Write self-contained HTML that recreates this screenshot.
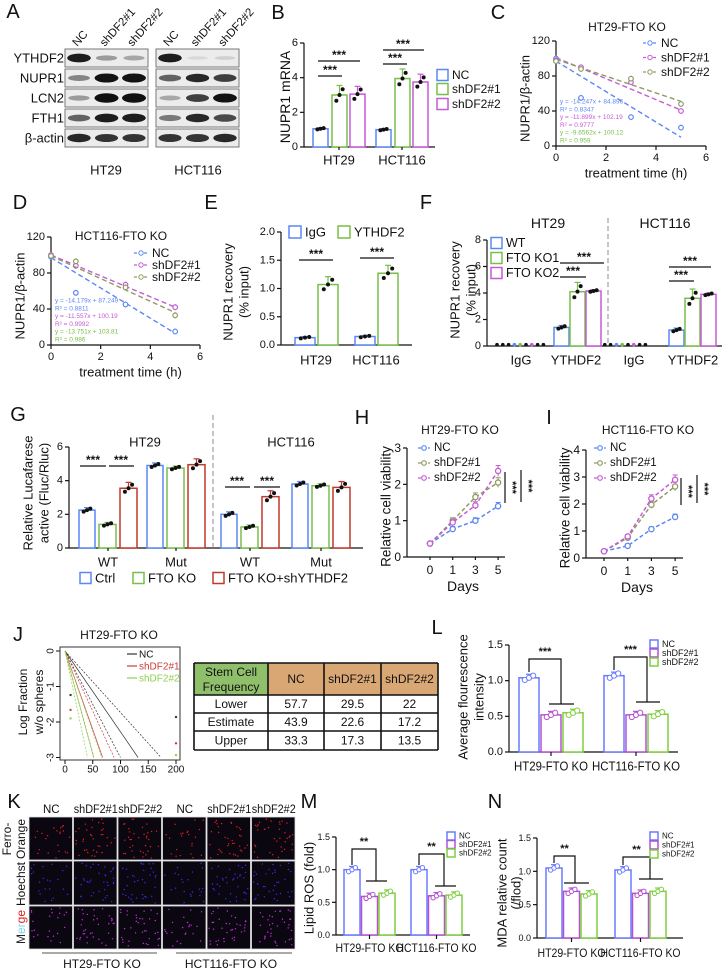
<!DOCTYPE html>
<html><head><meta charset="utf-8"><style>
html,body{margin:0;padding:0;background:#fff;}
svg{display:block;font-family:"Liberation Sans",Arial,sans-serif;}
</style></head><body>
<svg id="fig" width="723" height="971" viewBox="0 0 723 971" xmlns="http://www.w3.org/2000/svg"></svg>
<script>
// ---------- data arrays ----------
const blotRows=['YTHDF2','NUPR1','LCN2','FTH1','β-actin'];
const blotLanes=['NC','shDF2#1','shDF2#2'];
const blotHT29=[[0.9,0.35,0.3],[0.45,0.95,0.95],[0.35,1.0,1.0],[0.6,0.9,0.9],[0.85,0.8,0.8]];
const blotHCT116=[[0.9,0.08,0.12],[0.6,0.85,0.75],[0.3,0.75,0.95],[0.5,0.85,0.7],[0.8,0.8,0.85]];
const bCats=['HT29','HCT116'];
const bNC=[1.05,1.0];
const bSh1=[3.0,3.95];
const bSh2=[3.05,3.75];
const bTicks=[0,2,4,6];
const timeTicks=[0,2,4,6];
const timePts=[0,1,3,5];
const cNC=[100,55,33,21], cSh1=[98,90,73,40], cSh2=[97,88,77,48];
const cLineNC=[97,10], cLineSh1=[101,41], cLineSh2=[99,51];
const dNC=[98,58,45,15], dSh1=[100,88,67,42], dSh2=[99,93,64,33];
const dLineNC=[97,13], dLineSh1=[100,42], dLineSh2=[99,36];
const eCats=['HT29','HCT116'];
const eIgG=[0.13,0.15];
const eYTH=[1.07,1.27];
const eTicks=[0,0.5,1.0,1.5,2.0];
const fCats=['IgG','YTHDF2','IgG','YTHDF2'];
const fWT=[1.4,1.2], fKO1=[4.1,3.6], fKO2=[4.15,3.9];
const fTicks=[0,2,4,6,8];
const gCats=['WT','Mut','WT','Mut'];
const gCtrl=[2.25,4.9,2.0,3.8];
const gKO=[1.4,4.75,1.25,3.7];
const gKOsh=[3.55,4.95,3.05,3.6];
const gTicks=[0,2,4,6];
const days=['0','1','3','5'];
const hNC=[0.37,0.77,1.0,1.4], hSh1=[0.37,1.0,1.65,2.05], hSh2=[0.37,0.95,1.42,2.37];
const hTicks=[0,1,2,3];
const iNC=[0.25,0.45,1.07,1.52], iSh1=[0.25,0.75,1.97,2.65], iSh2=[0.25,0.8,2.2,2.9];
const iTicks=[0,1,2,3,4];
const jFreqEst=[43.9,22.6,17.2], jFreqLow=[57.7,29.5,22], jFreqUp=[33.3,17.3,13.5];
const jPtLow=[-1.24,-1.66,-1.9], jPtHigh=[-1.86,-2.6,-2.93];
const lCats=['HT29-FTO KO','HCT116-FTO KO'];
const lNC=[1.04,1.07], lSh1=[0.52,0.52], lSh2=[0.55,0.53];
const mNC=[1.0,1.0], mSh1=[0.59,0.6], mSh2=[0.64,0.61];
const nNC=[1.05,1.02], nSh1=[0.7,0.67], nSh2=[0.66,0.7];
const lmnTicks=[0,0.5,1.0,1.5];

// ---------- helpers ----------
const NS='http://www.w3.org/2000/svg';
const S=document.getElementById('fig');
const BLUE='#5b87f5',GREEN='#78bf4a',MAG='#c55bd6',OLIVE='#8e9b62',RED='#c0392b';
function el(tag,a,p){const e=document.createElementNS(NS,tag);for(const k in a)e.setAttribute(k,a[k]);(p||S).appendChild(e);return e;}
function T(x,y,s,name,o){o=o||{};const a={x:x,y:y,'font-size':o.fs||11,'text-anchor':o.a||'middle',fill:o.c||'#111','dominant-baseline':'central'};
 if(o.r)a.transform='rotate('+o.r+' '+x+' '+y+')';if(o.fw)a['font-weight']=o.fw;if(o.tl){a.textLength=o.tl;a.lengthAdjust='spacingAndGlyphs';}
 const e=el('text',a);e.textContent=s;
 
 return e;}
function L(x1,y1,x2,y2,name,o){o=o||{};const a={x1:x1,y1:y1,x2:x2,y2:y2,stroke:o.c||'#111','stroke-width':o.w||1.2};if(o.d)a['stroke-dasharray']=o.d;const e=el('line',a);
 
 return e;}
function R(x,y,w,h,name,o){o=o||{};const e=el('rect',{x:x,y:y,width:w,height:h,fill:o.f||'none',stroke:o.c||'none','stroke-width':o.w||1.5});
 
 return e;}
function C(x,y,r,name,o){o=o||{};const e=el('circle',{cx:x,cy:y,r:r,fill:o.f||'#111',stroke:o.c||'none','stroke-width':o.w||1});
 
 return e;}
function yAxis(x,yf,ticks,fmt,name,fs){L(x,yf(ticks[ticks.length-1]),x,yf(ticks[0]),name+'-line');
 ticks.forEach(t=>{L(x-4,yf(t),x,yf(t),name+'-tick');T(x-6,yf(t),fmt(t),name+'-tick-label',{a:'end',fs:fs||11});});}
function bar(x,w,v,yf,col,name,err,dots){const y0=yf(0),y=yf(v);R(x,y,w,y0-y,name,{c:col,f:'#fff'});
 if(err){L(x+w/2,y,x+w/2,yf(v+err),name+'-error',{c:col,w:1.2});L(x+w/2-3,yf(v+err),x+w/2+3,yf(v+err),name+'-error-cap',{c:col,w:1.2});}
 if(dots){[-0.3,0,0.3].forEach((o,i)=>C(x+w/2+o*w*0.7,yf(v+(i-1)*err*0.6),dots.r||2,name+'-point',{f:dots.f||'#111',c:dots.c||'none',w:1}));}}
function legendSq(x,y,col,label,name,fs,sz){R(x,y-sz/2,sz,sz,name+'-swatch',{c:col,w:1.5,f:'#fff'});T(x+sz+4,y,label,name+'-label',{a:'start',fs:fs});}
function stars(x,y,s,name,fs){T(x,y,s,name,{fs:fs||12,fw:'bold'});}

// ---------- Panel A ----------
T(13,12,'A','panel-a-label',{fs:20});
function blot(x0,data,cell){const g=el('g',{});
 blotRows.forEach((r,ri)=>{const y=49+ri*20;const b=el('rect',{x:x0,y:y,width:83,height:18,fill:'#ececec',stroke:'#777','stroke-width':1},g);
  
  data[ri].forEach((v,li)=>{const cx=x0+14+li*27.5;const e=el('ellipse',{cx:cx,cy:y+9,rx:10+v*2,ry:1.5+v*3.2,fill:'#111','fill-opacity':Math.min(1,v*1.05)},g);
   });});}
blot(65,blotHT29,'ht29');blot(156,blotHCT116,'hct116');
blotRows.forEach((r,ri)=>T(64,58+ri*20,r,'blot-row-label',{a:'end',fs:13}));
[65,156].forEach(x0=>blotLanes.forEach((l,li)=>T(x0+10+li*27.5,45,l,'blot-lane-label',{a:'start',fs:11.5,r:-48})));
T(106,170,'HT29','blot-cell-label-ht29',{fs:13});T(198,170,'HCT116','blot-cell-label-hct116',{fs:13});

// ---------- Panel B ----------
T(278,13,'B','panel-b-label',{fs:20});
const yB=v=>147-v/6*104;
yAxis(304,yB,bTicks,t=>t,'b-y-axis',11);
L(304,147,435,147,'b-x-axis');
T(285,97,'NUPR1 mRNA','b-y-axis-title',{fs:14,r:-90});
const bStarts=[313,376];
bCats.forEach((c,i)=>{const x=bStarts[i];
 bar(x,15,bNC[i],yB,BLUE,'b-bar-nc',0.06,{});
 bar(x+19,15,bSh1[i],yB,GREEN,'b-bar-shdf2-1',0.55,{});
 bar(x+37,15,bSh2[i],yB,MAG,'b-bar-shdf2-2',0.45,{});
 L(x+26,147,x+26,150,'b-x-tick');T(x+26,160,c,'b-x-label',{fs:13});});
L(318,76,342,76,'b-sig-line');stars(330,70,'***','b-sig-stars');
L(318,61,360,61,'b-sig-line');stars(339,55,'***','b-sig-stars');
L(383,64,407,64,'b-sig-line');stars(395,58,'***','b-sig-stars');
L(383,50,424,50,'b-sig-line');stars(403,44,'***','b-sig-stars');
legendSq(437,75,BLUE,'NC','b-legend-nc',12,11);
legendSq(437,89,GREEN,'shDF2#1','b-legend-shdf2-1',12,11);
legendSq(437,104,MAG,'shDF2#2','b-legend-shdf2-2',12,11);

// ---------- line decay charts C & D ----------
function decay(cfg){const xf=t=>cfg.x0+t/6*cfg.w, yf=v=>cfg.y0-v/120*cfg.h;
 yAxis(cfg.x0,yf,[0,40,80,120],t=>t,cfg.p+'-y-axis',11);
 L(cfg.x0,cfg.y0,cfg.x0+cfg.w,cfg.y0,cfg.p+'-x-axis');
 timeTicks.forEach(t=>{L(xf(t),cfg.y0,xf(t),cfg.y0+4,cfg.p+'-x-tick');T(xf(t),cfg.y0+12,t,cfg.p+'-x-tick-label',{fs:11});});
 const ser=[[cfg.nc,cfg.lnc,BLUE,'nc'],[cfg.s1,cfg.ls1,MAG,'shdf2-1'],[cfg.s2,cfg.ls2,OLIVE,'shdf2-2']];
 ser.forEach(s=>{L(xf(0),yf(s[1][0]),xf(5),yf(s[1][1]),cfg.p+'-fit-line-'+s[3],{c:s[2],w:1.4,d:'5,3'});
  s[0].forEach((v,i)=>{const x=xf(timePts[i]);L(x,yf(v)-3,x,yf(v)+3,cfg.p+'-error-'+s[3],{c:s[2],w:1});C(x,yf(v),2.3,cfg.p+'-point-'+s[3],{f:'#fff',c:s[2],w:1.2});});});
 T(cfg.x0+cfg.w/2+5,cfg.y0+27,'treatment time (h)',cfg.p+'-x-axis-title',{fs:13});
 T(cfg.x0-31,cfg.y0-cfg.h/2+5,'NUPR1/β-actin',cfg.p+'-y-axis-title',{fs:13,r:-90});
 T(cfg.tx,cfg.ty,cfg.title,cfg.p+'-title',{fs:12});
 const lg=[['NC',BLUE],['shDF2#1',MAG],['shDF2#2',OLIVE]];
 lg.forEach((g,i)=>{const y=cfg.ly+i*cfg.lsp;L(cfg.lx-7,y,cfg.lx+7,y,cfg.p+'-legend-line',{c:g[1],w:1.2,d:'3,2'});C(cfg.lx,y,2.2,cfg.p+'-legend-marker',{f:'#fff',c:g[1]});T(cfg.lx+11,y,g[0],cfg.p+'-legend-label',{a:'start',fs:12});});
 cfg.eq.forEach((q,i)=>T(cfg.x0+4,cfg.ey+i*cfg.esp,q[0],cfg.p+'-equation',{a:'start',fs:6.5,c:q[1]}));}
T(498,13,'C','panel-c-label',{fs:20});
decay({p:'c',x0:556,w:150,y0:146,h:105,nc:cNC,s1:cSh1,s2:cSh2,lnc:cLineNC,ls1:cLineSh1,ls2:cLineSh2,tx:627,ty:27,title:'HT29-FTO KO',lx:650,ly:43,lsp:14.5,ey:102,esp:7.8,
 eq:[['y = -14.247x + 84.896',BLUE],['R² = 0.8347',BLUE],['y = -11.899x + 102.19',MAG],['R² = 0.9777',MAG],['y = -9.6562x + 100.12',GREEN],['R² = 0.959',GREEN]]});
T(20,203,'D','panel-d-label',{fs:20});
decay({p:'d',x0:51,w:149,y0:345,h:108,nc:dNC,s1:dSh1,s2:dSh2,lnc:dLineNC,ls1:dLineSh1,ls2:dLineSh2,tx:121,ty:236,title:'HCT116-FTO KO',lx:141,ly:253,lsp:12,ey:301,esp:7.8,
 eq:[['y = -14.179x + 87.249',BLUE],['R² = 0.8811',BLUE],['y = -11.557x + 100.19',MAG],['R² = 0.9992',MAG],['y = -13.751x + 103.81',GREEN],['R² = 0.986',GREEN]]});

// ---------- Panel E ----------
T(211,203,'E','panel-e-label',{fs:20});
const yE=v=>345-v/2*113;
yAxis(281,yE,eTicks,t=>t.toFixed(1),'e-y-axis',11);
L(281,345,412,345,'e-x-axis');
const eStarts=[295,355];
eCats.forEach((c,i)=>{const x=eStarts[i];
 bar(x,20,eIgG[i],yE,BLUE,'e-bar-igg',0.02,{});
 bar(x+23,20,eYTH[i],yE,GREEN,'e-bar-ythdf2',0.14,{});
 T(x+21,360,c,'e-x-label',{fs:13});});
L(299,260,333,260,'e-sig-line');stars(316,254,'***','e-sig-stars');
L(360,258,394,258,'e-sig-line');stars(377,252,'***','e-sig-stars');
legendSq(289,232,BLUE,'IgG','e-legend-igg',13,12);
legendSq(338,232,GREEN,'YTHDF2','e-legend-ythdf2',13,12);
T(228,292,'NUPR1 recovery','e-y-axis-title',{fs:13,r:-90});
T(244,292,'(% input)','e-y-axis-title-2',{fs:13,r:-90});

// ---------- Panel F ----------
T(426,203,'F','panel-f-label',{fs:20});
const yF=v=>346-v/8*106;
yAxis(487,yF,fTicks,t=>t,'f-y-axis',11);
L(487,346,722,346,'f-x-axis');
L(608,218,608,346,'f-divider',{c:'#888',w:1,d:'5,3'});
T(548,223,'HT29','f-title-ht29',{fs:14});T(665,223,'HCT116','f-title-hct116',{fs:14});
const fIgGx=[497,599], fYStarts=[554,669], fLabX=[521,576,634,693];
fCats.forEach((c,i)=>T(fLabX[i],360,c,'f-x-label',{fs:13}));
fIgGx.forEach(x0=>{const cols=['#111','#111','#111',BLUE,GREEN,'#111',MAG,'#111','#111'];cols.forEach((cl,k)=>C(x0+k*5.8,yF(0.1),1.8,'f-igg-point',{f:cl}));});
[0,1].forEach(i=>{const x=fYStarts[i];
 bar(x,15,fWT[i],yF,BLUE,'f-bar-wt',0.15,{});
 bar(x+16,15,fKO1[i],yF,GREEN,'f-bar-fto-ko1',0.7,{});
 bar(x+32,15,fKO2[i],yF,MAG,'f-bar-fto-ko2',0.1,{});});
L(560,277,586,277,'f-sig-line');stars(573,271,'***','f-sig-stars');
L(560,263,604,263,'f-sig-line');stars(584,257,'***','f-sig-stars');
L(669,281,694,281,'f-sig-line');stars(681,275,'***','f-sig-stars');
L(669,267,711,267,'f-sig-line');stars(690,261,'***','f-sig-stars');
legendSq(491,243,BLUE,'WT','f-legend-wt',12.5,11);
legendSq(491,258,GREEN,'FTO KO1','f-legend-fto-ko1',12.5,11);
legendSq(491,273,MAG,'FTO KO2','f-legend-fto-ko2',12.5,11);
T(455,290,'NUPR1 recovery','f-y-axis-title',{fs:13,r:-90});
T(471,290,'(% input)','f-y-axis-title-2',{fs:13,r:-90});

// ---------- Panel G ----------
T(18,415,'G','panel-g-label',{fs:20});
const yG=v=>548-v/6*101;
yAxis(69,yG,gTicks,t=>t,'g-y-axis',11);
L(69,548,363,548,'g-x-axis');
L(213,415,213,548,'g-divider',{c:'#888',w:1,d:'5,3'});
T(145,442,'HT29','g-title-ht29',{fs:13});T(291,442,'HCT116','g-title-hct116',{fs:13});
const gStarts=[79,147,221,292];
gCats.forEach((c,i)=>{const x=gStarts[i];
 bar(x,16,gCtrl[i],yG,BLUE,'g-bar-ctrl',0.15,{});
 bar(x+20,17,gKO[i],yG,GREEN,'g-bar-fto-ko',0.12,{});
 bar(x+41,17,gKOsh[i],yG,RED,'g-bar-fto-ko-shythdf2',0.35,{});
 L(x+29,548,x+29,551,'g-x-tick');T(x+29,562,c,'g-x-label',{fs:13});});
L(80,466,106,466,'g-sig-line');stars(93,460,'***','g-sig-stars');
L(109,466,134,466,'g-sig-line');stars(121,460,'***','g-sig-stars');
L(225,487,250,487,'g-sig-line');stars(237,481,'***','g-sig-stars');
L(254,487,280,487,'g-sig-line');stars(267,481,'***','g-sig-stars');
legendSq(80,578,BLUE,'Ctrl','g-legend-ctrl',13,11);
legendSq(133,578,GREEN,'FTO KO','g-legend-fto-ko',13,11);
legendSq(213,578,RED,'FTO KO+shYTHDF2','g-legend-fto-ko-shythdf2',13,11);
T(28,493,'Relative Lucafarese','g-y-axis-title',{fs:13,r:-90});
T(44,493,'active (Fluc/Rluc)','g-y-axis-title-2',{fs:13,r:-90});

// ---------- Panels H & I ----------
function growth(cfg){const yf=v=>cfg.y0-v/cfg.max*cfg.h, xf=i=>cfg.xs+i*cfg.dx;
 yAxis(cfg.x0,yf,cfg.ticks,t=>t,cfg.p+'-y-axis',12);
 L(cfg.x0,cfg.y0,cfg.xe,cfg.y0,cfg.p+'-x-axis');
 days.forEach((d,i)=>{L(xf(i),cfg.y0,xf(i),cfg.y0+3,cfg.p+'-x-tick');T(xf(i),cfg.y0+13,d,cfg.p+'-x-tick-label',{fs:12});});
 const ser=[[cfg.nc,BLUE,'nc'],[cfg.s1,OLIVE,'shdf2-1'],[cfg.s2,MAG,'shdf2-2']];
 ser.forEach(s=>{let pts=s[0].map((v,i)=>xf(i)+','+yf(v)).join(' ');const pl=el('polyline',{points:pts,fill:'none',stroke:s[1],'stroke-width':1.5,'stroke-dasharray':'4,2.5'});
  
  s[0].forEach((v,i)=>{const e=0.03+v*0.05;L(xf(i),yf(v+e),xf(i),yf(v-e),cfg.p+'-error-'+s[2],{c:s[1],w:1});L(xf(i)-2.5,yf(v+e),xf(i)+2.5,yf(v+e),cfg.p+'-error-cap',{c:s[1],w:1});C(xf(i),yf(v),2.6,cfg.p+'-point-'+s[2],{f:'#fff',c:s[1],w:1.3});});});
 T(cfg.xs+33,cfg.y0+29,'Days',cfg.p+'-x-axis-title',{fs:14});
 T(cfg.x0-21,cfg.y0-cfg.h/2+4,'Relative cell viability',cfg.p+'-y-axis-title',{fs:13.5,r:-90});
 T(cfg.tx,cfg.ty,cfg.title,cfg.p+'-title',{fs:12});
 const lg=[['NC',BLUE],['shDF2#1',OLIVE],['shDF2#2',MAG]];
 lg.forEach((g,i)=>{const y=448+i*15;L(cfg.lx-6,y,cfg.lx+6,y,cfg.p+'-legend-line',{c:g[1],w:1.3,d:'3,2'});C(cfg.lx,y,2.3,cfg.p+'-legend-marker',{f:'#fff',c:g[1],w:1.2});T(cfg.lx+10,y,g[0],cfg.p+'-legend-label',{a:'start',fs:11.5});});
 cfg.sig.forEach(sg=>{L(sg[0],sg[1],sg[0],sg[2],cfg.p+'-sig-line');T(sg[0]+7,(sg[1]+sg[2])/2,'***',cfg.p+'-sig-stars',{fs:11,fw:'bold',r:90});});}
T(362,418,'H','panel-h-label',{fs:20});
growth({p:'h',x0:407,xe:505,y0:557,h:109,max:3,ticks:hTicks,xs:430,dx:22.7,nc:hNC,s1:hSh1,s2:hSh2,tx:460,ty:430,title:'HT29-FTO KO',lx:424,sig:[[505,472,503],[521,470,502]]});
T(549,418,'I','panel-i-label',{fs:20});
growth({p:'i',x0:586,xe:683,y0:558,h:108,max:4,ticks:iTicks,xs:604,dx:23.7,nc:iNC,s1:iSh1,s2:iSh2,tx:648,ty:430,title:'HCT116-FTO KO',lx:600,sig:[[681,478,505],[697,475,503]]});

// ---------- Panel J ----------
T(18,635,'J','panel-j-label',{fs:20});
T(119,635,'HT29-FTO KO','j-title',{fs:12});
R(60,647,120,113,'j-plot-frame',{c:'#333',w:1});
const xJ=d=>65+d*0.555, yJ=v=>651-v*35.5;
['0','-1','-2','-3'].forEach((t,i)=>{L(56,yJ(-i),60,yJ(-i),'j-y-tick',{w:1});T(51,yJ(-i),t,'j-y-tick-label',{fs:10,r:-90});});
[0,50,100,150,200].forEach(t=>{L(xJ(t),760,xJ(t),764,'j-x-tick',{w:1});T(xJ(t),770,t,'j-x-tick-label',{fs:10});});
T(23,702,'Log Fraction','j-y-axis-title',{fs:12,r:-90});T(39,702,'w/o spheres','j-y-axis-title-2',{fs:12,r:-90});
const jCols=['#333','#d23a3a','#8fd04f'],jNames=['nc','shdf2-1','shdf2-2'];
function jLine(f,col,name,dash){let d=3*f;let v=-3;if(d>200){d=200;v=-200/f;}L(xJ(0),yJ(0),xJ(d),yJ(v),name,{c:col,w:0.7,d:dash});}
[0,1,2].forEach(i=>{jLine(jFreqEst[i],jCols[i],'j-line-estimate-'+jNames[i]);jLine(jFreqLow[i],jCols[i],'j-line-lower-'+jNames[i],'2,1.5');jLine(jFreqUp[i],jCols[i],'j-line-upper-'+jNames[i],'2,1.5');
 C(xJ(10),yJ(jPtLow[i]),1.2,'j-point-'+jNames[i],{f:jCols[i]});C(xJ(200),yJ(jPtHigh[i]),1.2,'j-point-'+jNames[i],{f:jCols[i]});});
[['NC','#333'],['shDF2#1','#d23a3a'],['shDF2#2','#8fd04f']].forEach((g,i)=>{const y=654+i*12;L(127,y,137,y,'j-legend-line',{c:g[1],w:1.2});T(139,y+1,g[0],'j-legend-label',{a:'start',fs:10,c:g[1]==='#333'?'#111':g[1]});});
// table
const tX=[194,268,324,381,438], tY=[663,695,713,731,750];
R(194,663,74,32,'table-header-cell',{f:'#8fbf6a'});R(268,663,170,32,'table-header-cells',{f:'#d9a774'});
tX.forEach(x=>L(x,663,x,750,'table-col-border',{w:1.6}));tY.forEach(y=>L(194,y,438,y,'table-row-border',{w:1.6}));
T(231,672,'Stem Cell','table-header-text',{fs:12});T(231,687,'Frequency','table-header-text',{fs:12});
['NC','shDF2#1','shDF2#2'].forEach((h,i)=>T((tX[i+1]+tX[i+2])/2,679,h,'table-header-text',{fs:12}));
const tRows=[['Lower',jFreqLow],['Estimate',jFreqEst],['Upper',jFreqUp]];
tRows.forEach((r,ri)=>{const y=(tY[ri+1]+tY[ri+2])/2;T(231,y,r[0],'table-row-label',{fs:12});r[1].forEach((v,ci)=>T((tX[ci+1]+tX[ci+2])/2,y,v,'table-cell',{fs:12}));});

// ---------- L, M, N bar charts ----------
function triBar(cfg){const yf=v=>cfg.y0-v/1.5*cfg.h;
 yAxis(cfg.x0,yf,lmnTicks,t=>t.toFixed(1),cfg.p+'-y-axis',cfg.tfs);
 L(cfg.x0,cfg.y0,cfg.xe,cfg.y0,cfg.p+'-x-axis');
 lCats.forEach((c,i)=>{const x=cfg.starts[i];
  bar(x,cfg.bw,cfg.nc[i],yf,'#6a7bff',cfg.p+'-bar-nc',0.05,{f:'#fff',c:'#6a7bff',r:cfg.dr});
  bar(x+cfg.pitch,cfg.bw,cfg.s1[i],yf,'#b550d0',cfg.p+'-bar-shdf2-1',0.05,{f:'#fff',c:'#b550d0',r:cfg.dr});
  bar(x+2*cfg.pitch,cfg.bw,cfg.s2[i],yf,'#7fcf3f',cfg.p+'-bar-shdf2-2',0.05,{f:'#fff',c:'#7fcf3f',r:cfg.dr});
  const mid=x+cfg.pitch+cfg.bw/2;L(mid,cfg.y0,mid,cfg.y0+4,cfg.p+'-x-tick');T(mid,cfg.y0+cfg.lo,c,cfg.p+'-x-label',{fs:cfg.xfs,tl:cfg.tls[i]});
  const s=cfg.sig[i];const pl=el('polyline',{points:`${x+cfg.bw/2},${s[0]} ${x+cfg.bw/2},${s[1]} ${s[2]},${s[1]} ${s[2]},${s[3]}`,fill:'none',stroke:'#111','stroke-width':1.2});
  
  L(s[4],s[3],s[5],s[3],cfg.p+'-sig-bar');stars((x+cfg.bw/2+s[2])/2,s[1]-7,cfg.st,cfg.p+'-sig-stars',11);});
 [['NC','#6a7bff'],['shDF2#1','#b550d0'],['shDF2#2','#7fcf3f']].forEach((g,i)=>legendSq(cfg.lgx,cfg.lgy+i*cfg.lgs,g[1],g[0],cfg.p+'-legend',cfg.lfs,cfg.lsz));}
T(437,628,'L','panel-l-label',{fs:20});
triBar({p:'l',x0:509,xe:678,y0:752,h:107,nc:lNC,s1:lSh1,s2:lSh2,starts:[519,604],bw:20,pitch:22,dr:2.6,tfs:11,xfs:13,lo:14,st:'***',tls:[74,88],
 sig:[[672,659,561,704,549,574],[670,657,647,702,636,660]],lgx:650,lgy:644,lgs:9,lfs:9,lsz:8});
T(463,697,'Average flourescence','l-y-axis-title',{fs:13,r:-90});T(479,697,'intensity','l-y-axis-title-2',{fs:13,r:-90});
T(309,802,'M','panel-m-label',{fs:20});
triBar({p:'m',x0:336,xe:470,y0:935,h:98,nc:mNC,s1:mSh1,s2:mSh2,starts:[344,411],bw:16,pitch:17.5,dr:2.2,tfs:9,xfs:12,lo:13,st:'**',tls:[68,80],
 sig:[[865,849,376,881,366,387],[865,854,444,886,435,456]],lgx:447,lgy:836,lgs:8.5,lfs:8,lsz:8});
T(309,888,'Lipid ROS (fold)','m-y-axis-title',{fs:13,r:-90});
T(495,802,'N','panel-n-label',{fs:20});
triBar({p:'n',x0:537,xe:683,y0:938,h:100,nc:nNC,s1:nSh1,s2:nSh2,starts:[546,615],bw:16,pitch:17.5,dr:2.2,tfs:9,xfs:12,lo:15,st:'**',tls:[68,80],
 sig:[[863,856,575,883,564,589],[865,857,650,879,639,663]],lgx:650,lgy:836,lgs:9,lfs:8,lsz:8});
T(502,893,'MDA relative count','n-y-axis-title',{fs:13,r:-90});T(516,893,'(/flod)','n-y-axis-title-2',{fs:13,r:-90});

// ---------- Panel K ----------
T(14,802,'K','panel-k-label',{fs:20});
const kHeads=['NC','shDF2#1','shDF2#2','NC','shDF2#1','shDF2#2'];
const kx0=29,kw=44.5,kRowsY=[817,861,906],kRowH=[44,45,44];
kHeads.forEach((h,i)=>T(kx0+kw*i+kw/2,810,h,'k-column-label',{fs:11.5,tl:h.length>2?44:null}));
let seed=12345;function rnd(){seed=(seed*1103515245+12345)%2147483648;return seed/2147483648;}
const dotCol=['#e0201c','#3a2cf0','#c52ce0'];
kRowsY.forEach((y,ri)=>{for(let ci=0;ci<6;ci++){const x=kx0+ci*kw;R(x,y,kw-1,kRowH[ri]-1,'k-image-cell',{f:'#0b0710',c:'#ddd',w:0.8});
 const n=ci%3===0?22:36;for(let k=0;k<n;k++){C(x+2+rnd()*(kw-5),y+2+rnd()*(kRowH[ri]-5),0.7,'k-cell-dot',{f:dotCol[ri]});}}});
T(7,839,'Ferro-','k-row-label',{fs:12,r:-90});T(21,839,'Orange','k-row-label',{fs:12,r:-90});
T(21,884,'Hoechst','k-row-label',{fs:12,r:-90});
(function(){const t=el('text',{x:21,y:927,'font-size':12,'text-anchor':'middle','dominant-baseline':'central',transform:'rotate(-90 21 927)'});
 
 [['M','#222'],['er','#7fd3f0'],['ge','#e0201c']].forEach(p=>{const s=el('tspan',{fill:p[1]},t);s.textContent=p[0];});})();
L(42,953,157,953,'k-group-underline',{c:'#777'});L(176,953,292,953,'k-group-underline',{c:'#777'});
T(102,964,'HT29-FTO KO','k-group-label-ht29',{fs:12});T(231,964,'HCT116-FTO KO','k-group-label-hct116',{fs:12});
</script>
</body></html>
